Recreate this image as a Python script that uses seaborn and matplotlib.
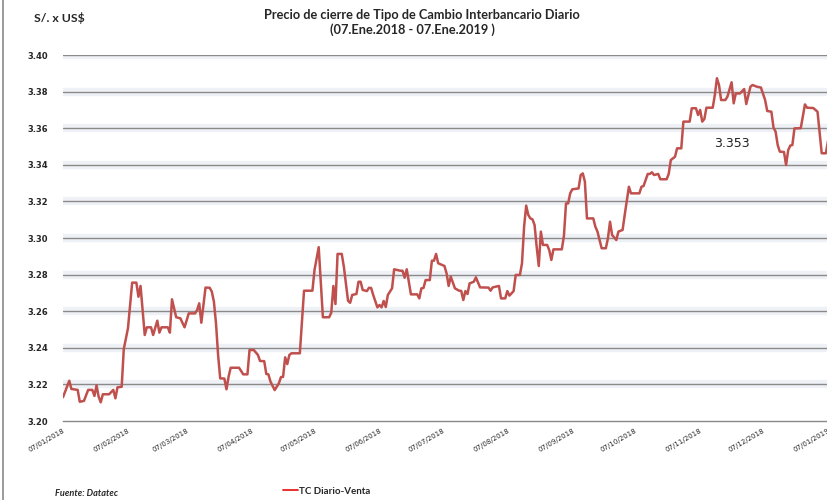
import numpy as np
import pandas as pd
import matplotlib
matplotlib.use("Agg")
import matplotlib.pyplot as plt
import matplotlib.dates as mdates
from matplotlib.lines import Line2D
import seaborn as sns

# ---- data ----
start_date = "2018-01-07"
day_offsets = [0, 3, 4, 7, 8, 10, 12, 14, 15, 16, 17, 18, 19, 22, 24, 25, 26, 28, 29, 31,
               33, 35, 36, 37, 39, 40, 42, 43, 45, 46, 47, 50, 51, 52, 54, 56, 58, 60, 63, 64,
               65, 66, 68, 70, 71, 72, 73, 74, 75, 77, 78, 79, 80, 84, 86, 88, 89, 91, 93, 94,
               96, 97, 98, 99, 101, 103, 104, 105, 106, 107, 108, 109, 113, 115, 117, 119, 120, 122, 124, 127,
               128, 129, 130, 131, 133, 134, 136, 137, 138, 140, 141, 142, 143, 145, 146, 147, 148, 150, 151, 152,
               153, 154, 155, 157, 158, 161, 162, 163, 164, 165, 166, 169, 170, 171, 172, 173, 175, 176, 177, 178,
               179, 181, 182, 183, 184, 185, 187, 189, 190, 191, 192, 193, 194, 196, 197, 199, 203, 204, 205, 208,
               209, 211, 212, 213, 215, 216, 218, 219, 220, 221, 222, 223, 224, 225, 226, 227, 228, 229, 231, 232,
               233, 234, 238, 239, 240, 241, 242, 243, 246, 247, 248, 249, 250, 253, 254, 255, 257, 259, 260, 261,
               262, 264, 265, 267, 268, 270, 271, 275, 276, 277, 279, 280, 281, 282, 284, 285, 288, 289, 290, 292,
               293, 295, 296, 299, 300, 302, 303, 304, 305, 306, 307, 310, 311, 312, 313, 314, 316, 317, 319, 320,
               321, 323, 325, 326, 328, 329, 331, 333, 335, 336, 338, 339, 340, 341, 342, 344, 345, 346, 347, 348,
               349, 352, 354, 355, 358, 360, 362, 364, 365]
tc_venta = [3.2130, 3.2220, 3.2175, 3.2170, 3.2105, 3.2110, 3.2170, 3.2170, 3.2137, 3.2195, 3.2133, 3.2102, 3.2146, 3.2146, 3.2170, 3.2124, 3.2184, 3.2187, 3.2393, 3.2507,
            3.2756, 3.2756, 3.2679, 3.2738, 3.2470, 3.2512, 3.2512, 3.2470, 3.2548, 3.2483, 3.2512, 3.2512, 3.2483, 3.2665, 3.2567, 3.2561, 3.2512, 3.2588, 3.2588, 3.2607,
            3.2643, 3.2537, 3.2729, 3.2728, 3.2707, 3.2652, 3.2534, 3.2361, 3.2233, 3.2232, 3.2173, 3.2242, 3.2291, 3.2291, 3.2255, 3.2255, 3.2388, 3.2388, 3.2361, 3.2328,
            3.2327, 3.2257, 3.2255, 3.2215, 3.2169, 3.2206, 3.2240, 3.2241, 3.2348, 3.2311, 3.2361, 3.2370, 3.2370, 3.2712, 3.2712, 3.2712, 3.2825, 3.2950, 3.2567, 3.2567,
            3.2592, 3.2738, 3.2639, 3.2913, 3.2913, 3.2843, 3.2657, 3.2646, 3.2689, 3.2694, 3.2761, 3.2761, 3.2716, 3.2710, 3.2728, 3.2727, 3.2689, 3.2621, 3.2634, 3.2621,
            3.2656, 3.2623, 3.2689, 3.2725, 3.2829, 3.2821, 3.2821, 3.2783, 3.2829, 3.2761, 3.2692, 3.2692, 3.2670, 3.2725, 3.2727, 3.2770, 3.2770, 3.2876, 3.2876, 3.2913,
            3.2862, 3.2852, 3.2847, 3.2807, 3.2738, 3.2789, 3.2725, 3.2712, 3.2711, 3.2661, 3.2710, 3.2694, 3.2752, 3.2761, 3.2785, 3.2730, 3.2729, 3.2712, 3.2730, 3.2738,
            3.2670, 3.2670, 3.2710, 3.2685, 3.2710, 3.2798, 3.2798, 3.2862, 3.3062, 3.3177, 3.3126, 3.3107, 3.3102, 3.3071, 3.2952, 3.2847, 3.3035, 3.2962, 3.2962, 3.2934,
            3.2880, 3.2938, 3.2938, 3.3011, 3.3189, 3.3189, 3.3244, 3.3266, 3.3271, 3.3344, 3.3353, 3.3308, 3.3107, 3.3107, 3.3062, 3.3035, 3.2944, 3.2944, 3.2998, 3.3089,
            3.3016, 3.2989, 3.3035, 3.3044, 3.3126, 3.3280, 3.3244, 3.3244, 3.3280, 3.3284, 3.3350, 3.3350, 3.3359, 3.3344, 3.3350, 3.3321, 3.3321, 3.3350, 3.3426, 3.3444,
            3.3490, 3.3490, 3.3636, 3.3636, 3.3709, 3.3709, 3.3672, 3.3700, 3.3636, 3.3650, 3.3712, 3.3712, 3.3781, 3.3873, 3.3836, 3.3754, 3.3754, 3.3772, 3.3851, 3.3736,
            3.3790, 3.3790, 3.3814, 3.3732, 3.3827, 3.3836, 3.3827, 3.3822, 3.3754, 3.3694, 3.3690, 3.3603, 3.3581, 3.3508, 3.3472, 3.3470, 3.3399, 3.3480, 3.3505, 3.3508,
            3.3599, 3.3600, 3.3730, 3.3712, 3.3710, 3.3690, 3.3463, 3.3463, 3.3530]
y_ticks = [3.20, 3.22, 3.24, 3.26, 3.28, 3.30, 3.32, 3.34, 3.36, 3.38, 3.40]
x_tick_dates = ["2018-01-07", "2018-02-07", "2018-03-07", "2018-04-07", "2018-05-07",
                "2018-06-07", "2018-07-07", "2018-08-07", "2018-09-07", "2018-10-07",
                "2018-11-07", "2018-12-07", "2019-01-07"]
series_name = "TC Diario-Venta"
last_label = "3.353"
title_line1 = "Precio de cierre de Tipo de Cambio Interbancario Diario"
title_line2 = "(07.Ene.2018 - 07.Ene.2019 )"
unit_label = "S/. x US$"
source_label = "Fuente: Datatec"

dates = pd.Timestamp(start_date) + pd.to_timedelta(day_offsets, unit="D")
df = pd.DataFrame({"fecha": dates, "tc": tc_venta})

sns.set_style("white")
plt.rcParams["font.family"] = ["DejaVu Sans"]

fig = plt.figure(figsize=(8.28, 5.0), dpi=100)
ax = fig.add_axes([63 / 828, 79 / 500, 1 - 63 / 828, 366 / 500])

# gridlines with soft halo
for yv in y_ticks[1:]:
    ax.axhline(yv, color="#eef1f6", lw=6, zorder=0.5)
    ax.axhline(yv, color="#8a8a8a", lw=1.0, zorder=0.8)

sns.lineplot(data=df, x="fecha", y="tc", ax=ax, color="#c0504d", lw=1.8,
             estimator=None, sort=False, legend=False, zorder=3)

ax.set_xlim(pd.Timestamp(x_tick_dates[0]), pd.Timestamp(x_tick_dates[-1]))
ax.set_ylim(3.20, 3.40)
ax.set_yticks(y_ticks)
ax.set_yticklabels([f"{v:.2f}" for v in y_ticks], fontsize=6, fontweight="bold")
ax.tick_params(axis="y", length=0, pad=10.5)

ax.set_xticks(pd.to_datetime(x_tick_dates))
ax.xaxis.set_major_formatter(mdates.DateFormatter("%d/%m/%Y"))
ax.tick_params(axis="x", length=3, color="#888888", labelsize=5, pad=2)
for lab in ax.get_xticklabels():
    lab.set_rotation(30)
    lab.set_ha("right")
    lab.set_rotation_mode("anchor")

ax.set_xlabel("")
ax.set_ylabel("")
for s in ["top", "right", "left"]:
    ax.spines[s].set_visible(False)
ax.spines["bottom"].set_color("#888888")
ax.spines["bottom"].set_linewidth(1.0)
ax.patch.set_alpha(0)

# annotation of last value
ax.text(pd.Timestamp("2018-11-22"), 3.3515, last_label, fontsize=9, ha="center",
        va="center", color="#222222")

# titles and labels
fig.text(422 / 828, 1 - 15 / 500, title_line1, ha="center", va="center",
         family=["Lato", "DejaVu Sans"], fontweight="bold", fontsize=9.2)
fig.text(412 / 828, 1 - 30 / 500, title_line2, ha="center", va="center",
         family=["Lato", "DejaVu Sans"], fontweight="bold", fontsize=9.2)
fig.text(34 / 828, 1 - 18 / 500, unit_label, ha="left", va="center",
         family=["Lato", "DejaVu Sans"], fontweight="bold", fontsize=8.8)
fig.text(55 / 828, 1 - 494 / 500, source_label, ha="left", va="center",
         family=["Lato", "DejaVu Sans"], fontweight="bold", style="italic", fontsize=6.6)

handle = Line2D([], [], color="#e8201c", lw=1.3)
leg = fig.legend([handle], [series_name], loc="center left",
                 bbox_to_anchor=(278 / 828, 1 - 491 / 500), frameon=False,
                 handlelength=1.6, handletextpad=0.1, borderpad=0,
                 prop={"family": ["Lato", "DejaVu Sans"], "weight": "bold", "size": 7})

# left frame border
fig.add_artist(Line2D([3.5 / 828, 3.5 / 828], [0, 1], color="#8a8a8a", lw=1.2))

fig.savefig("out.png", dpi=100)
